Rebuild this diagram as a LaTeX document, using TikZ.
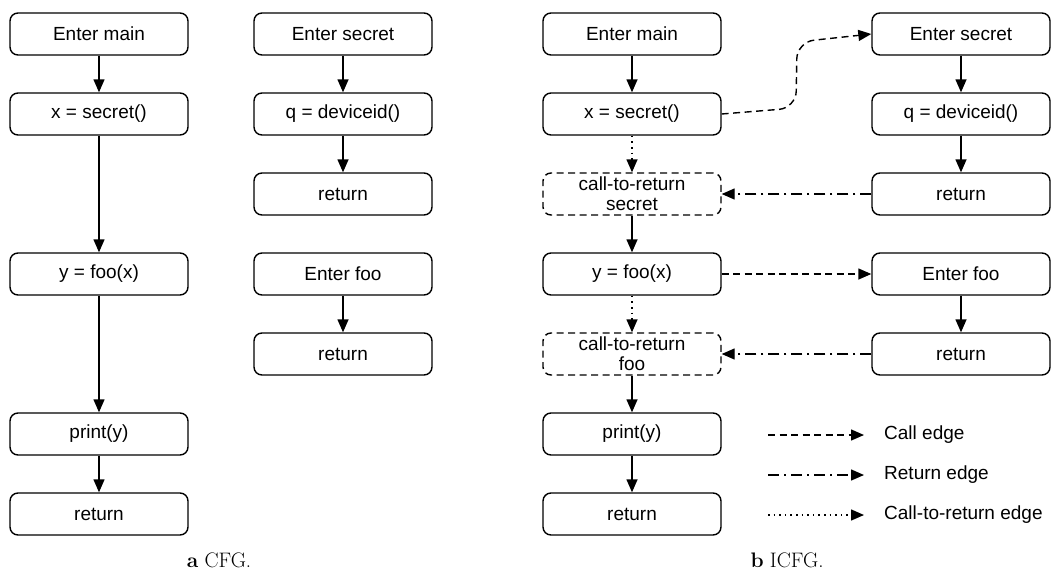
\documentclass[tikz,border=0pt]{standalone}
\usepackage{fontspec}
\newfontfamily\arial{Liberation Sans}
\usetikzlibrary{arrows.meta}
\begin{document}
\begin{tikzpicture}[x=1pt,y=-1pt,
  blk/.style={draw, line width=1.4pt, rounded corners=8pt, minimum width=178pt,
    minimum height=42pt, inner sep=0pt, align=center,
    font=\arial\fontsize{19}{20}\selectfont},
  ctr/.style={blk, dash pattern=on 7pt off 4.5pt},
  flow/.style={line width=1.4pt, -{Triangle[length=13pt,width=11pt]}},
  calle/.style={flow, dash pattern=on 7pt off 4.5pt},
  rete/.style={flow, dash pattern=on 11pt off 5pt on 2pt off 5pt},
  ctre/.style={flow, dash pattern=on 1.6pt off 4pt},
  captxt/.style={font=\fontsize{21}{24}\selectfont, anchor=base},
  lgd/.style={anchor=west, inner sep=0pt, font=\arial\fontsize{19}{20}\selectfont}]
\useasboundingbox (0,0) rectangle (1051,570);

% ---- CFG ----
\node[blk] (a1) at (99,34)  {Enter main};
\node[blk] (a2) at (99,114) {x = secret()};
\node[blk] (a3) at (99,274) {y = foo(x)};
\node[blk] (a4) at (99,434) {print(y)};
\node[blk] (a5) at (99,514) {return};
\node[blk] (s1) at (343,34)  {Enter secret};
\node[blk] (s2) at (343,114) {q = deviceid()};
\node[blk] (s3) at (343,194) {return};
\node[blk] (f1) at (343,274) {Enter foo};
\node[blk] (f2) at (343,354) {return};
\draw[flow] (a1) -- (a2);
\draw[flow] (a2) -- (a3);
\draw[flow] (a3) -- (a4);
\draw[flow] (a4) -- (a5);
\draw[flow] (s1) -- (s2);
\draw[flow] (s2) -- (s3);
\draw[flow] (f1) -- (f2);
\node[captxt] (capa) at (219,567) {\textbf{a} CFG.};

% ---- ICFG ----
\node[blk] (m1) at (632,34)  {Enter main};
\node[blk] (m2) at (632,114) {x = secret()};
\node[ctr] (m3) at (632,194) {call-to-return\\secret};
\node[blk] (m4) at (632,274) {y = foo(x)};
\node[ctr] (m5) at (632,354) {call-to-return\\foo};
\node[blk] (m6) at (632,434) {print(y)};
\node[blk] (m7) at (632,514) {return};
\node[blk] (t1) at (961,34)  {Enter secret};
\node[blk] (t2) at (961,114) {q = deviceid()};
\node[blk] (t3) at (961,194) {return};
\node[blk] (g1) at (961,274) {Enter foo};
\node[blk] (g2) at (961,354) {return};

\draw[flow] (m1) -- (m2);
\draw[ctre] (m2) -- (m3);
\draw[flow] (m3) -- (m4);
\draw[ctre] (m4) -- (m5);
\draw[flow] (m5) -- (m6);
\draw[flow] (m6) -- (m7);
\draw[flow] (t1) -- (t2);
\draw[flow] (t2) -- (t3);
\draw[flow] (g1) -- (g2);

% call edge into the callee, bending upwards
\coordinate (bendA) at (796,108);
\coordinate (bendB) at (797,42);
\draw[calle, rounded corners=17pt] (m2.east) -- (bendA) -- (bendB) -- (t1.west);
\draw[rete] (t3) -- (m3);
\draw[calle] (m4) -- (g1);
\draw[rete] (g2) -- (m5);

% legend
\coordinate (l1a) at (768,435); \coordinate (l1b) at (864,435);
\coordinate (l2a) at (768,475); \coordinate (l2b) at (864,475);
\coordinate (l3a) at (768,515); \coordinate (l3b) at (864,515);
\draw[calle] (l1a) -- (l1b);
\draw[rete]  (l2a) -- (l2b);
\draw[ctre]  (l3a) -- (l3b);
\node[lgd] (t_call) at (884,435) {Call edge};
\node[lgd] (t_ret)  at (884,475) {Return edge};
\node[lgd] (t_ctr)  at (884,515) {Call-to-return edge};

\node[captxt] (capb) at (787,567) {\textbf{b} ICFG.};
\end{tikzpicture}
\end{document}
